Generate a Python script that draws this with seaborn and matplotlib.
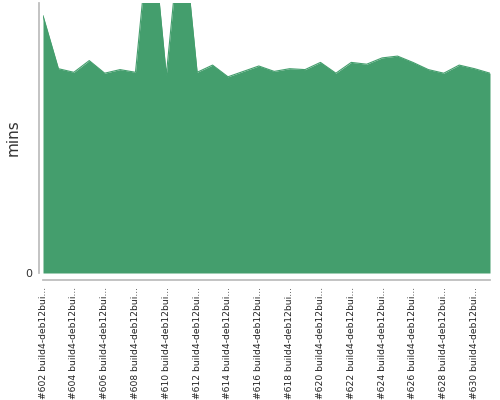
import matplotlib
matplotlib.use("Agg")
import matplotlib.pyplot as plt
import pandas as pd
import seaborn as sns

# build numbers and build time (mins)
builds = list(range(602, 632))
mins = [28.6, 22.7, 22.3, 23.6, 22.2, 22.6, 22.3, 39.7, 22.0, 39.5,
        22.3, 23.1, 21.8, 22.4, 23.0, 22.4, 22.7, 22.6, 23.4, 22.2,
        23.4, 23.2, 23.9, 24.1, 23.4, 22.6, 22.2, 23.1, 22.7, 22.2]
labels = ['#%d build4-deb12bui...' % b for b in builds]

df = pd.DataFrame({'pos': range(len(builds)), 'mins': mins, 'label': labels})

sns.set_theme(style='white')
plt.rcParams['font.family'] = ['DejaVu Sans']

green = '#449e6d'

fig = plt.figure(figsize=(5, 4), dpi=100)
ax = fig.add_axes([0.086, 0.3175, 0.894, 0.675])

sns.lineplot(data=df, x='pos', y='mins', ax=ax, color=green, linewidth=0.8)
ax.fill_between(df['pos'], df['mins'], 0, color=green, linewidth=0)

# spines first (set_position resets the ticks)
for s in ['top', 'right']:
    ax.spines[s].set_visible(False)
ax.spines['left'].set_color('#bbbbbb')
ax.spines['bottom'].set_color('#bbbbbb')
ax.spines['left'].set_position(('outward', 3))
ax.spines['bottom'].set_position(('outward', 5))

ax.set_xlim(0, len(builds) - 1)
ax.set_ylim(0, 30)

ax.set_yticks([0])
ax.set_yticklabels(['0'], fontsize=8, color='#333333')
ax.set_xticks(df['pos'])
ax.set_xticklabels([l if i % 2 == 0 else '' for i, l in enumerate(labels)],
                   rotation=90, fontsize=6.6, color='#222222')
ax.tick_params(axis='both', length=3, width=0.8, color='#bbbbbb', pad=2)

ax.set_xlabel('')
ax.set_ylabel('mins', fontsize=11, color='#333333', labelpad=3)

fig.savefig('out.png', dpi=100)
